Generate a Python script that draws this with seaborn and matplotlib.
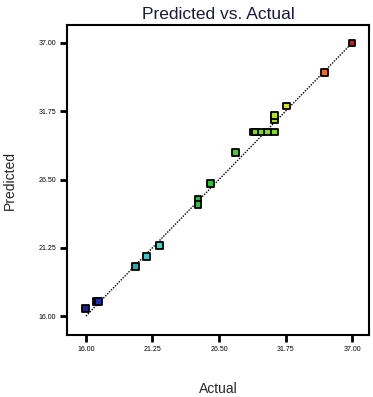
import matplotlib
matplotlib.use("Agg")
import matplotlib.pyplot as plt
from matplotlib.colors import LinearSegmentedColormap
import seaborn as sns
import pandas as pd
import numpy as np

actual = [16.0, 16.8, 17.0, 19.9, 20.8, 21.8, 24.85, 24.85, 25.85, 27.8,
          29.2, 29.4, 29.87, 30.36, 30.88, 30.88, 30.88, 31.8, 34.85, 37.0]
predicted = [16.6, 17.1, 17.1, 19.8, 20.6, 21.4, 25.0, 24.55, 26.2, 28.6,
             30.15, 30.15, 30.15, 30.15, 30.15, 31.1, 31.45, 32.15, 34.7, 37.0]
ticks = [16.00, 21.25, 26.50, 31.75, 37.00]
tick_labels = ["16.00", "21.25", "26.50", "31.75", "37.00"]

df = pd.DataFrame({"Actual": actual, "Predicted": predicted})

sns.set_style("white")
plt.rcParams["font.family"] = ["Liberation Sans", "DejaVu Sans"]

fig = plt.figure(figsize=(3.73, 3.97), dpi=100)
ax = fig.add_axes([0.180, 0.156, 0.809, 0.781])

ax.plot([ticks[0], ticks[-1]], [ticks[0], ticks[-1]], color="black",
        linestyle=(0, (1, 1)), linewidth=1.0, zorder=1)

cmap = LinearSegmentedColormap.from_list("de", [
    (0.00, "#14147a"), (0.06, "#1c34b8"), (0.18, "#2aa8b0"),
    (0.24, "#40d8d8"), (0.42, "#20c040"), (0.60, "#40d020"),
    (0.72, "#a8e020"), (0.78, "#e0e020"), (0.88, "#f07820"),
    (1.00, "#d01818")])

sns.scatterplot(data=df, x="Actual", y="Predicted", hue="Predicted",
                palette=cmap, hue_norm=(16, 37), marker="s", s=24,
                edgecolor="black", linewidth=1.3, legend=False, ax=ax, zorder=2)

ax.set_xlim(14.52, 38.33)
ax.set_ylim(14.54, 38.38)
ax.set_xticks(ticks)
ax.set_xticklabels(tick_labels, fontsize=5)
ax.set_yticks(ticks)
ax.set_yticklabels(tick_labels, fontsize=5)
ax.tick_params(axis="both", direction="out", length=5, width=2, colors="black",
               pad=3, bottom=True, left=True)
for sp in ax.spines.values():
    sp.set_linewidth(1.5)
    sp.set_color("black")

ax.set_title("Predicted vs. Actual", fontsize=12.5, pad=4, color="#1a1a40")
ax.set_xlabel("Actual", fontsize=10)
ax.set_ylabel("Predicted", fontsize=10)
ax.xaxis.set_label_coords(0.5, -0.15)
ax.yaxis.set_label_coords(-0.166, 0.5)

fig.savefig("out.png", dpi=100)
